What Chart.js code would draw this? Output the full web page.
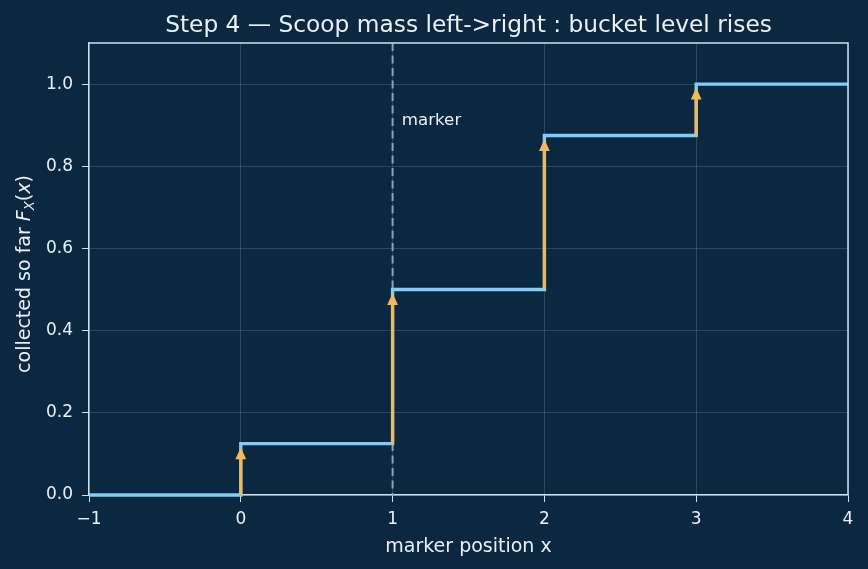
<!DOCTYPE html>
<html>
<head>
<meta charset="utf-8">
<script src="https://cdn.jsdelivr.net/npm/chart.js@4.4.1/dist/chart.umd.min.js"></script>
<style>
  html, body { margin: 0; padding: 0; background: #0b2840; }
  canvas { display: block; }
</style>
</head>
<body>
<canvas id="c" width="868" height="569"></canvas>
<script>
// ---- data ----
const stepX = [-1, 0, 1, 2, 3, 4];
const stepY = [0, 0.125, 0.5, 0.875, 1.0, 1.0];
const jumpX = [0, 1, 2, 3];
const jumpFrom = [0, 0.125, 0.5, 0.875];
const jumpTo = [0.125, 0.5, 0.875, 1.0];
const markerX = [1];
const markerLabel = "marker";
const markerLabelPos = [1.06, 0.9];
const xTicks = [-1, 0, 1, 2, 3, 4];
const yTicks = [0, 0.2, 0.4, 0.6, 0.8, 1.0];
const titleText = "Step 4 \u2014 Scoop mass left->right : bucket level rises";
const xTitle = "marker position x";

// ---- styles ----
const BG = '#0b2840';
const SPINE = '#cde0f2';
const GRID = 'rgba(255,255,255,0.14)';
const TXT = '#eaf0f6';
const STEP = '#7fcdf8';
const ARROW = '#f3b85a';
const DASH = '#8ba3ba';
const FONT = "'DejaVu Sans', sans-serif";

const bgPlugin = {
  id: 'bg',
  beforeDraw(chart) {
    const ctx = chart.ctx;
    ctx.save();
    ctx.fillStyle = BG;
    ctx.fillRect(0, 0, chart.width, chart.height);
    ctx.restore();
  }
};

const markerPlugin = {
  id: 'marker',
  beforeDatasetsDraw(chart) {
    const {ctx, scales: {x, y}, chartArea} = chart;
    ctx.save();
    ctx.strokeStyle = DASH;
    ctx.lineWidth = 2;
    ctx.setLineDash([8, 4.5]);
    markerX.forEach(v => {
      const px = x.getPixelForValue(v);
      ctx.beginPath();
      ctx.moveTo(px, chartArea.top);
      ctx.lineTo(px, chartArea.bottom);
      ctx.stroke();
    });
    ctx.restore();
  },
  afterDatasetsDraw(chart) {
    const {ctx, scales: {x, y}, chartArea} = chart;
    ctx.save();
    // arrows
    jumpX.forEach((v, i) => {
      const px = x.getPixelForValue(v);
      const y0 = y.getPixelForValue(jumpFrom[i]);
      const y1 = y.getPixelForValue(jumpTo[i]) + 3.5; // tip slightly below level
      const headL = 12, headW = 5.4;
      ctx.strokeStyle = ARROW;
      ctx.lineWidth = 3;
      ctx.setLineDash([]);
      ctx.beginPath();
      ctx.moveTo(px, y0);
      ctx.lineTo(px, y1 + headL - 2);
      ctx.stroke();
      ctx.fillStyle = ARROW;
      ctx.beginPath();
      ctx.moveTo(px, y1);
      ctx.lineTo(px - headW, y1 + headL);
      ctx.lineTo(px + headW, y1 + headL);
      ctx.closePath();
      ctx.fill();
    });
    // marker label
    ctx.fillStyle = TXT;
    ctx.font = "16.7px " + FONT;
    ctx.textAlign = 'left';
    ctx.textBaseline = 'alphabetic';
    ctx.fillText(markerLabel, x.getPixelForValue(markerLabelPos[0]), y.getPixelForValue(markerLabelPos[1]));
    ctx.restore();
  },
  afterDraw(chart) {
    const {ctx, chartArea} = chart;
    ctx.save();
    // top and right spines
    ctx.strokeStyle = SPINE;
    ctx.lineWidth = 1.5;
    ctx.beginPath();
    ctx.moveTo(chartArea.left, chartArea.top);
    ctx.lineTo(chartArea.right, chartArea.top);
    ctx.lineTo(chartArea.right, chartArea.bottom);
    ctx.stroke();
    // title centred over plot area
    ctx.fillStyle = TXT;
    ctx.font = "23.3px " + FONT;
    ctx.textAlign = 'center';
    ctx.textBaseline = 'alphabetic';
    ctx.fillText(titleText, (chartArea.left + chartArea.right) / 2, 31.5);
    // y-axis title with math
    const fs = 19;
    const parts = [
      {t: 'collected so far ', f: fs + 'px ' + FONT, dy: 0},
      {t: 'F', f: 'italic ' + fs + 'px ' + FONT, dy: 0},
      {t: 'X', f: 'italic ' + (fs * 0.7).toFixed(1) + 'px ' + FONT, dy: 3.5},
      {t: '(', f: fs + 'px ' + FONT, dy: 0},
      {t: 'x', f: 'italic ' + fs + 'px ' + FONT, dy: 0},
      {t: ')', f: fs + 'px ' + FONT, dy: 0}
    ];
    let total = 0;
    parts.forEach(p => { ctx.font = p.f; p.w = ctx.measureText(p.t).width; total += p.w; });
    ctx.translate(30, 274);
    ctx.rotate(-Math.PI / 2);
    ctx.textAlign = 'left';
    let cx = -total / 2;
    parts.forEach(p => { ctx.font = p.f; ctx.fillText(p.t, cx, p.dy); cx += p.w; });
    ctx.restore();
  }
};

const points = stepX.map((v, i) => ({x: v, y: stepY[i]}));

new Chart(document.getElementById('c'), {
  type: 'line',
  data: {
    datasets: [{
      data: points,
      stepped: true,
      borderColor: STEP,
      borderWidth: 3.4,
      pointRadius: 0,
      fill: false,
      clip: 4
    }]
  },
  options: {
    responsive: false,
    animation: false,
    devicePixelRatio: 1,
    layout: { padding: { left: 0, right: 20, top: 43, bottom: 0 } },
    plugins: {
      legend: { display: false },
      tooltip: { enabled: false },
      title: { display: false }
    },
    scales: {
      x: {
        type: 'linear',
        min: -1, max: 4,
        afterBuildTicks: s => { s.ticks = xTicks.map(v => ({value: v})); },
        afterFit: s => { s.height = 74; },
        ticks: {
          color: TXT,
          font: { family: FONT, size: 17 },
          padding: 7,
          maxRotation: 0,
          callback: v => String(v).replace('-', '\u2212')
        },
        grid: { color: GRID, lineWidth: 1, tickColor: SPINE, tickLength: 7, drawTicks: true },
        border: { display: true, color: SPINE, width: 1.5 },
        title: {
          display: true,
          text: xTitle,
          color: TXT,
          font: { family: FONT, size: 19 },
          padding: { top: 0, bottom: 11 }
        }
      },
      y: {
        type: 'linear',
        min: 0, max: 1.1,
        afterBuildTicks: s => { s.ticks = yTicks.map(v => ({value: v})); },
        afterFit: s => { s.width = 89; },
        ticks: {
          color: TXT,
          font: { family: FONT, size: 17 },
          padding: 9,
          callback: v => Number(v).toFixed(1)
        },
        grid: { color: GRID, lineWidth: 1, tickColor: SPINE, tickLength: 7, drawTicks: true },
        border: { display: true, color: SPINE, width: 1.5 }
      }
    }
  },
  plugins: [bgPlugin, markerPlugin]
});
</script>
</body>
</html>
